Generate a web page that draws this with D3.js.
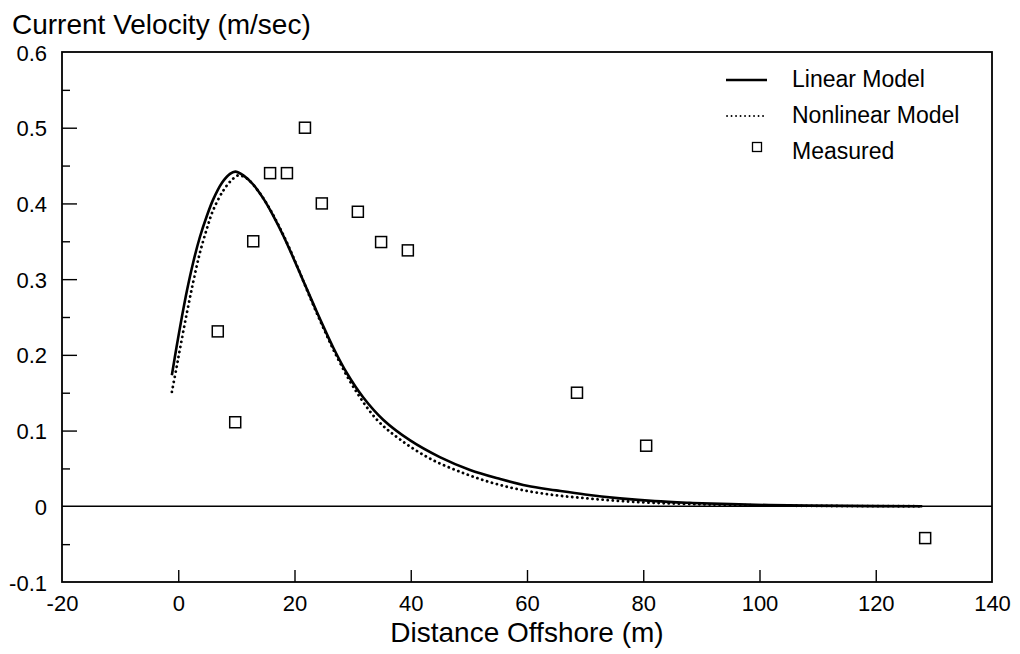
<!DOCTYPE html>
<html>
<head>
<meta charset="utf-8">
<script src="https://cdn.jsdelivr.net/npm/d3@7"></script>
<style>
  html, body { margin: 0; padding: 0; background: #fff; }
  svg { display: block; font-family: "Liberation Sans", Arial, Helvetica, sans-serif; }
</style>
</head>
<body>
<svg id="chart" width="1020" height="654"></svg>
<script>
// ---- data ----
const linearX = [-1.1, -0.3, 0.6, 1.5, 2.6, 3.7, 4.9, 6.0, 7.5, 8.9, 9.8, 11.2, 12.9, 14.6, 16.4, 18.1, 19.8, 21.5, 23.2, 25.0, 26.7, 29.0, 31.8, 35.3, 39.9, 45.0, 50.2, 55.4, 60, 65, 70, 76, 82, 88, 95, 105, 115, 128];
const linearY = [0.173, 0.210, 0.249, 0.285, 0.323, 0.355, 0.383, 0.405, 0.427, 0.439, 0.442, 0.437, 0.425, 0.407, 0.383, 0.357, 0.328, 0.298, 0.268, 0.237, 0.209, 0.176, 0.144, 0.114, 0.087, 0.065, 0.048, 0.036, 0.027, 0.021, 0.0155, 0.0105, 0.0068, 0.0046, 0.0028, 0.0012, 0.0005, 0];

const nonlinearX = [-1.1, -0.3, 0.3, 1.45, 2.6, 3.7, 4.9, 6.0, 7.75, 9.2, 10.3, 11.8, 13.5, 15.2, 17.0, 19.0, 21.0, 23.0, 25.0, 27.0, 30.1, 34.1, 38.2, 43.3, 49.0, 54, 58.8, 64.5, 70.3, 76, 82, 88, 95, 105, 115, 128];
const nonlinearY = [0.151, 0.183, 0.208, 0.254, 0.297, 0.334, 0.366, 0.391, 0.417, 0.431, 0.437, 0.433, 0.419, 0.400, 0.375, 0.343, 0.307, 0.270, 0.235, 0.202, 0.158, 0.115, 0.088, 0.063, 0.044, 0.031, 0.022, 0.015, 0.0105, 0.007, 0.0045, 0.003, 0.0018, 0.0008, 0.0003, 0];

const measuredX = [6.8, 9.8, 12.9, 15.8, 18.7, 21.8, 24.7, 30.9, 34.9, 39.5, 68.6, 80.5, 128.5];
const measuredY = [0.231, 0.111, 0.350, 0.440, 0.440, 0.500, 0.400, 0.389, 0.349, 0.338, 0.150, 0.080, -0.042];

const xTicks = [-20, 0, 20, 40, 60, 80, 100, 120, 140];
const yTicks = [-0.1, 0, 0.1, 0.2, 0.3, 0.4, 0.5, 0.6];
const yMinorTicks = [-0.05, 0.05, 0.15, 0.25, 0.35, 0.45, 0.55];

const yTitle = "Current Velocity (m/sec)";
const xTitle = "Distance Offshore (m)";
const legendLabels = ["Linear Model", "Nonlinear Model", "Measured"];

// ---- layout ----
const L = 62, R = 992, T = 52, B = 582;
const svg = d3.select("#chart");
const x = d3.scaleLinear().domain([-20, 140]).range([L, R]);
const y = d3.scaleLinear().domain([-0.1, 0.6]).range([B, T]);

// zero line
svg.append("line")
  .attr("x1", L).attr("x2", R)
  .attr("y1", y(0)).attr("y2", y(0))
  .attr("stroke", "#000").attr("stroke-width", 1.6);

// y axis major ticks (inward)
const yAxis = svg.append("g").attr("transform", `translate(${L},0)`)
  .call(d3.axisLeft(y).tickValues(yTicks).tickSize(-15).tickPadding(15)
        .tickFormat(d => d === 0 ? "0" : d.toFixed(1)));
yAxis.select(".domain").remove();
yAxis.selectAll(".tick line").attr("stroke", "#000").attr("stroke-width", 1.4)
  .filter(d => d === 0 || d === -0.1 || d === 0.6).remove();
yAxis.selectAll(".tick text").attr("font-size", 22).attr("fill", "#000")
  .attr("font-family", "'Liberation Sans', Arial, sans-serif")
  .attr("dy", null).attr("y", 8);

// y minor ticks
const yMinor = svg.append("g").attr("transform", `translate(${L},0)`)
  .call(d3.axisLeft(y).tickValues(yMinorTicks).tickSize(-8).tickFormat(""));
yMinor.select(".domain").remove();
yMinor.selectAll(".tick line").attr("stroke", "#000").attr("stroke-width", 1.4);

// x axis ticks (inward)
const xAxis = svg.append("g").attr("transform", `translate(0,${B})`)
  .call(d3.axisBottom(x).tickValues(xTicks).tickSize(-12).tickPadding(0)
        .tickFormat(d => String(d)));
xAxis.select(".domain").remove();
xAxis.selectAll(".tick line").attr("stroke", "#000").attr("stroke-width", 1.4)
  .filter(d => d === -20 || d === 140).remove();
xAxis.selectAll(".tick text").attr("font-size", 22).attr("fill", "#000")
  .attr("font-family", "'Liberation Sans', Arial, sans-serif")
  .attr("dy", null).attr("y", 29);

// frame
svg.append("rect")
  .attr("x", L).attr("y", T).attr("width", R - L).attr("height", B - T)
  .attr("fill", "none").attr("stroke", "#000").attr("stroke-width", 1.8);

// curves
const line = d3.line().x(d => x(d[0])).y(d => y(d[1])).curve(d3.curveCatmullRom.alpha(0.5));
const linearData = linearX.map((v, i) => [v, linearY[i]]);
const nonlinearData = nonlinearX.map((v, i) => [v, nonlinearY[i]]);

svg.append("path").datum(nonlinearData).attr("d", line)
  .attr("fill", "none").attr("stroke", "#000").attr("stroke-width", 2.8)
  .attr("stroke-linecap", "round").attr("stroke-dasharray", "0.1,5");

svg.append("path").datum(linearData).attr("d", line)
  .attr("fill", "none").attr("stroke", "#000").attr("stroke-width", 2.6);

// measured squares
const sq = 11;
svg.append("g").selectAll("rect")
  .data(measuredX.map((v, i) => [v, measuredY[i]]))
  .join("rect")
  .attr("x", d => x(d[0]) - sq / 2).attr("y", d => y(d[1]) - sq / 2)
  .attr("width", sq).attr("height", sq)
  .attr("fill", "#fff").attr("stroke", "#000").attr("stroke-width", 1.5);

// titles
svg.append("text").attr("x", 12).attr("y", 34)
  .attr("font-size", 28).attr("fill", "#000").text(yTitle);
svg.append("text").attr("x", (L + R) / 2).attr("y", 642)
  .attr("text-anchor", "middle").attr("font-size", 28).attr("fill", "#000").text(xTitle);

// legend
const lg = svg.append("g");
const lgY = [80, 116, 147];
lg.append("line").attr("x1", 726).attr("x2", 767).attr("y1", lgY[0]).attr("y2", lgY[0])
  .attr("stroke", "#000").attr("stroke-width", 2.4);
lg.append("line").attr("x1", 727).attr("x2", 767).attr("y1", lgY[1]).attr("y2", lgY[1])
  .attr("stroke", "#000").attr("stroke-width", 1.8)
  .attr("stroke-linecap", "round").attr("stroke-dasharray", "0.1,4.4");
lg.append("rect").attr("x", 757 - 4.5).attr("y", lgY[2] - 4.5).attr("width", 9).attr("height", 9)
  .attr("fill", "#fff").attr("stroke", "#000").attr("stroke-width", 1.3);
const lgBase = [87, 123, 159];
legendLabels.forEach((t, i) => {
  lg.append("text").attr("x", 792).attr("y", lgBase[i])
    .attr("font-size", 23).attr("fill", "#000").text(t);
});
</script>
</body>
</html>
